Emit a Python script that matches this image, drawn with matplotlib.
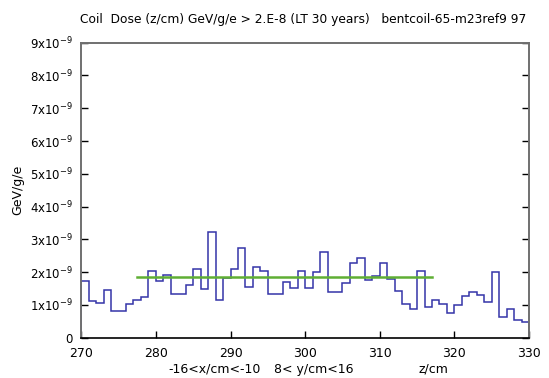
import numpy as np
import matplotlib
matplotlib.use('Agg')
import matplotlib.pyplot as plt

# bin edges along z (cm), 1 cm bins
z_edges = np.arange(270, 331)

# dose per bin, in units of 1e-9 GeV/g/e
dose = [1.74, 1.11, 1.07, 1.46, 0.83, 0.83, 1.03, 1.15, 1.25, 2.02,
        1.74, 1.90, 1.34, 1.34, 1.62, 2.11, 1.49, 3.22, 1.16, 1.82,
        2.11, 2.75, 1.56, 2.17, 2.05, 1.34, 1.34, 1.71, 1.53, 2.05,
        1.53, 1.99, 2.60, 1.38, 1.38, 1.68, 2.27, 2.44, 1.77, 1.89,
        2.29, 1.79, 1.42, 1.02, 0.87, 2.05, 0.94, 1.16, 1.03, 0.75,
        1.01, 1.27, 1.40, 1.30, 1.10, 2.00, 0.64, 0.88, 0.54, 0.48]

# average level (green line)
avg_z = [277.5, 317.0]
avg_dose = 1.84

yticks = [0, 1, 2, 3, 4, 5, 6, 7, 8, 9]
ytick_labels = ['0'] + [f'{k}x10$^{{-9}}$' for k in yticks[1:]]
xticks = [270, 280, 290, 300, 310, 320, 330]

plt.rcParams['font.family'] = 'DejaVu Sans'
plt.rcParams['mathtext.default'] = 'regular'

fig = plt.figure(figsize=(5.49, 3.78), dpi=100)
ax = fig.add_axes([0.148, 0.1066, 0.8156, 0.7804])

d = np.array(dose) * 1e-9
ax.stairs(d, z_edges, color='#3434a8', linewidth=1.1)
ax.plot(avg_z, [avg_dose * 1e-9] * 2, color='#5fae34', linewidth=1.8)

ax.set_xlim(270, 330)
ax.set_ylim(0, 9e-9)
ax.set_xticks(xticks)
ax.set_xticklabels([str(x) for x in xticks], fontsize=9)
ax.set_yticks([v * 1e-9 for v in yticks])
ax.set_yticklabels(ytick_labels, fontsize=8.5)

ax.tick_params(axis='both', direction='in', length=5, width=1, color='black')
ax.tick_params(axis='y', right=True, pad=6)
ax.tick_params(axis='x', pad=7)

for side in ['left', 'top', 'right']:
    ax.spines[side].set_color('#707070')
    ax.spines[side].set_linewidth(1.4)
ax.spines['bottom'].set_color('black')
ax.spines['bottom'].set_linewidth(1.2)

fig.text(18 / 549, 1 - 190 / 378, 'GeV/g/e', rotation=90, fontsize=9,
         ha='center', va='center')
fig.text(303 / 549, 1 - 19 / 378,
         'Coil  Dose (z/cm) GeV/g/e > 2.E-8 (LT 30 years)   bentcoil-65-m23ref9 97',
         fontsize=8.8, ha='center', va='center')
fig.text(215 / 549, 1 - 369 / 378, '-16<x/cm<-10', fontsize=9,
         ha='center', va='center')
fig.text(314 / 549, 1 - 369 / 378, '8< y/cm<16', fontsize=9,
         ha='center', va='center')
fig.text(433 / 549, 1 - 369 / 378, 'z/cm', fontsize=9,
         ha='center', va='center')

fig.savefig('out.png', dpi=100)
